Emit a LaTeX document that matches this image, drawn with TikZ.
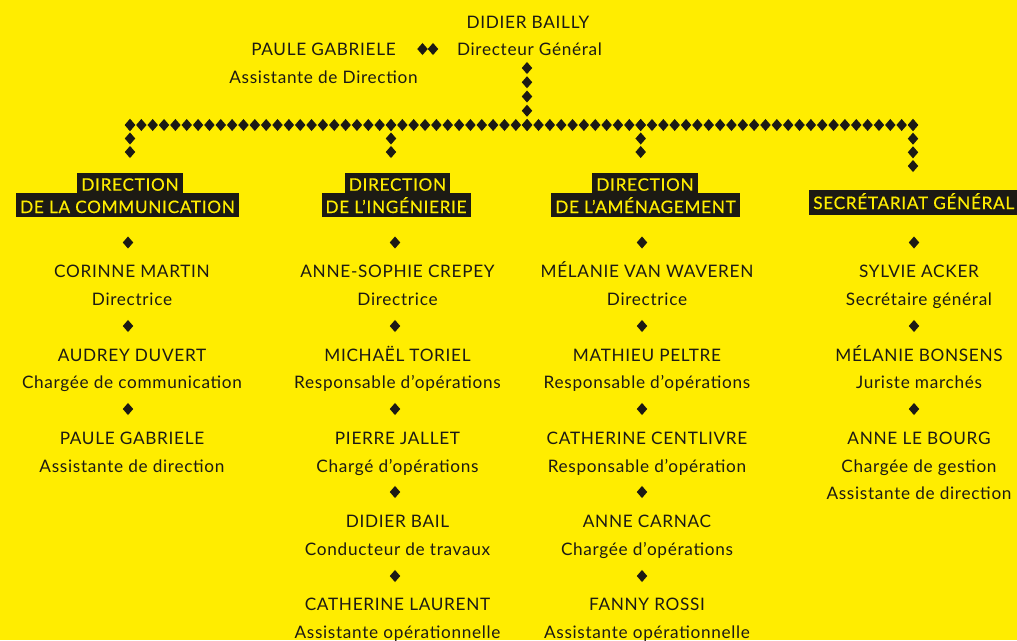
\documentclass[tikz,border=0pt]{standalone}
\usepackage{fontspec}
\setmainfont[LetterSpace=4]{Lato}
\newfontfamily\hdfont[FakeBold=0.4,LetterSpace=4]{Lato}
\usetikzlibrary{calc,shapes.geometric}
\definecolor{bgyellow}{HTML}{FFED00}
\definecolor{ink}{HTML}{1C1A14}
\newcommand{\txtsize}{\fontsize{12.9}{15}\selectfont}
\tikzset{
  x=0.75pt, y=-0.75pt,
  person/.style={text=ink, font=\txtsize, inner sep=0pt, anchor=base},
  hdbox/.style={fill=ink, text=bgyellow, font=\hdfont\txtsize, inner xsep=3pt, inner ysep=0pt,
    text height=13.5pt, text depth=3pt, anchor=base},
  dmd/.style={diamond, fill=ink, draw=none, inner sep=0pt, minimum width=8pt, minimum height=9.2pt},
}
\newcommand{\chain}[3]{% from, to, steps
  \foreach \i in {0,...,#3} {\node[dmd] at ($(#1)!{\i/#3}!(#2)$) {};}}
\begin{document}
\begin{tikzpicture}
\fill[bgyellow] (0,0) rectangle (1017,640);
\useasboundingbox (0,0) rectangle (1017,640);

% top
\node[person] (dgname) at (528,28) {DIDIER BAILLY};
\node[person] (dgrole) at (529.5,55) {Directeur Général};
\node[person] (pgname) at (323.5,55) {PAULE GABRIELE};
\node[person] (pgrole) at (323.5,83) {Assistante de Direction};
\node[dmd] (pgd1) at (422.5,49) {};
\node[dmd] (pgd2) at (433,49) {};

% chains
\coordinate (dgtop) at (527,68);
\coordinate (hub) at (527,125);
\coordinate (hl) at (130,125);
\coordinate (hr) at (913,125);
\coordinate (d1) at (130,152);
\coordinate (t2) at (391,125);
\coordinate (d2) at (391,152);
\coordinate (t3) at (640.7,125);
\coordinate (d3) at (640.7,152);
\coordinate (d4) at (913,166);
\chain{dgtop}{hub}{4}
\chain{hl}{hr}{69}
\chain{hl}{d1}{2}
\chain{t2}{d2}{2}
\chain{t3}{d3}{2}
\chain{hr}{d4}{3}

% headers
\node[hdbox, text height=15pt] (h1b) at (127.5,213) {DE LA COMMUNICATION};
\node[hdbox] (h1a) at (130,190.7) {DIRECTION};
\node[hdbox, text height=15pt] (h2b) at (396,213) {DE L’INGÉNIERIE};
\node[hdbox] (h2a) at (397.5,190.7) {DIRECTION};
\node[hdbox, text height=15pt] (h3b) at (645.5,213) {DE L’AMÉNAGEMENT};
\node[hdbox] (h3a) at (645,190.7) {DIRECTION};
\node[hdbox, anchor=base west, text height=14pt, text depth=4.5pt] (h4) at (809,209) {SECRÉTARIAT GÉNÉRAL};

% column 1
\node[dmd] (c1s1) at (128,242.5) {};
\node[person] (c1n1) at (132,277) {CORINNE MARTIN};
\node[person] (c1r1) at (132,305) {Directrice};
\node[dmd] (c1s2) at (128,326) {};
\node[person] (c1n2) at (132,361) {AUDREY DUVERT};
\node[person] (c1r2) at (132,388) {Chargée de communication};
\node[dmd] (c1s3) at (128,409) {};
\node[person] (c1n3) at (132,444) {PAULE GABRIELE};
\node[person] (c1r3) at (132,472) {Assistante de direction};

% column 2
\node[dmd] (c2s1) at (395,242.5) {};
\node[person] (c2n1) at (397.5,277) {ANNE-SOPHIE CREPEY};
\node[person] (c2r1) at (397.5,305) {Directrice};
\node[dmd] (c2s2) at (395,326) {};
\node[person] (c2n2) at (397.5,361) {MICHAËL TORIEL};
\node[person] (c2r2) at (397.5,388) {Responsable d’opérations};
\node[dmd] (c2s3) at (395,409) {};
\node[person] (c2n3) at (397.5,444) {PIERRE JALLET};
\node[person] (c2r3) at (397.5,472) {Chargé d’opérations};
\node[dmd] (c2s4) at (395,492) {};
\node[person] (c2n4) at (397.5,527) {DIDIER BAIL};
\node[person] (c2r4) at (397.5,555.5) {Conducteur de travaux};
\node[dmd] (c2s5) at (395,576) {};
\node[person] (c2n5) at (397.5,610) {CATHERINE LAURENT};
\node[person] (c2r5) at (397.5,638) {Assistante opérationnelle};

% column 3
\node[dmd] (c3s1) at (642,242.5) {};
\node[person] (c3n1) at (647,277) {MÉLANIE VAN WAVEREN};
\node[person] (c3r1) at (647,305) {Directrice};
\node[dmd] (c3s2) at (642,326) {};
\node[person] (c3n2) at (647,361) {MATHIEU PELTRE};
\node[person] (c3r2) at (647,388) {Responsable d’opérations};
\node[dmd] (c3s3) at (642,409) {};
\node[person] (c3n3) at (647,444) {CATHERINE CENTLIVRE};
\node[person] (c3r3) at (647,472) {Responsable d’opération};
\node[dmd] (c3s4) at (642,492) {};
\node[person] (c3n4) at (647,527) {ANNE CARNAC};
\node[person] (c3r4) at (647,555.5) {Chargée d’opérations};
\node[dmd] (c3s5) at (642,576) {};
\node[person] (c3n5) at (647,610) {FANNY ROSSI};
\node[person] (c3r5) at (647,638) {Assistante opérationnelle};

% column 4
\node[dmd] (c4s1) at (914,242.5) {};
\node[person] (c4n1) at (919,277) {SYLVIE ACKER};
\node[person] (c4r1) at (919,305) {Secrétaire général};
\node[dmd] (c4s2) at (914,326) {};
\node[person] (c4n2) at (919,361) {MÉLANIE BONSENS};
\node[person] (c4r2) at (919,388) {Juriste marchés};
\node[dmd] (c4s3) at (914,409) {};
\node[person] (c4n3) at (919,444) {ANNE LE BOURG};
\node[person] (c4r3) at (919,472) {Chargée de gestion};
\node[person] (c4r3b) at (919,499) {Assistante de direction};
\end{tikzpicture}
\end{document}
